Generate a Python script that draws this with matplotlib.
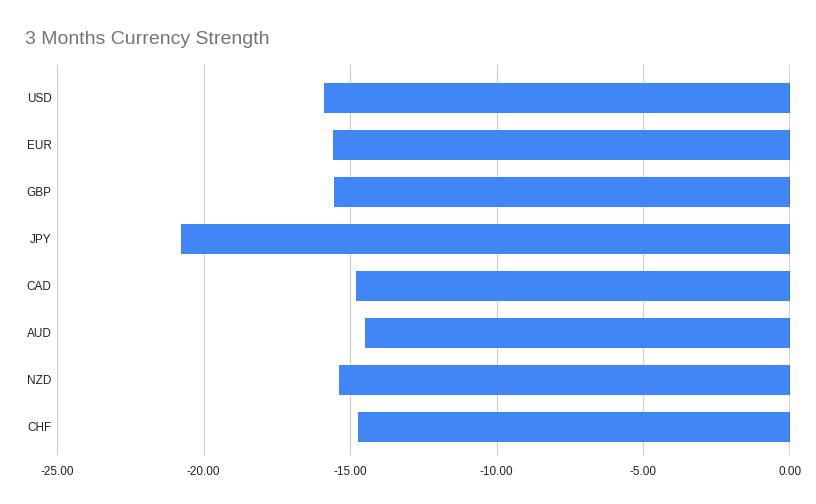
import matplotlib
matplotlib.use("Agg")
import matplotlib.pyplot as plt

categories = ["USD", "EUR", "GBP", "JPY", "CAD", "AUD", "NZD", "CHF"]
values = [-15.89, -15.59, -15.55, -20.77, -14.80, -14.50, -15.38, -14.73]
xticks = [-25, -20, -15, -10, -5, 0]
xtick_labels = ["-25.00", "-20.00", "-15.00", "-10.00", "-5.00", "0.00"]

plt.rcParams['font.family'] = ['Liberation Sans', 'DejaVu Sans']

fig = plt.figure(figsize=(8.16, 5.04), dpi=100)
ax = fig.add_axes([57/816, 1-455/504, (790-57)/816, (455-65)/504])

y = list(range(len(categories)))
ax.barh(y, values, height=0.64, color="#4285f4", zorder=3)

ax.set_xlim(-25, 0)
ax.set_ylim(7.6, -0.7)
ax.set_xticks(xticks)
ax.set_xticklabels(xtick_labels, fontsize=8.5, color="#222222")
ax.set_yticks(y)
ax.set_yticklabels(categories, fontsize=8.5, color="#222222")
ax.tick_params(axis='both', length=0)
ax.tick_params(axis='y', pad=4)
ax.tick_params(axis='x', pad=8)

ax.grid(axis='x', color="#cccccc", linewidth=0.8, zorder=0)
for s in ["top", "left", "bottom", "right"]:
    ax.spines[s].set_visible(False)
ax.axvline(0, color="#333333", linewidth=1.0, zorder=4)

fig.text(25/816, 1-39/504, "3 Months Currency Strength", fontsize=14, color="#757575",
         va="center", ha="left")

fig.savefig("out.png", dpi=100)
